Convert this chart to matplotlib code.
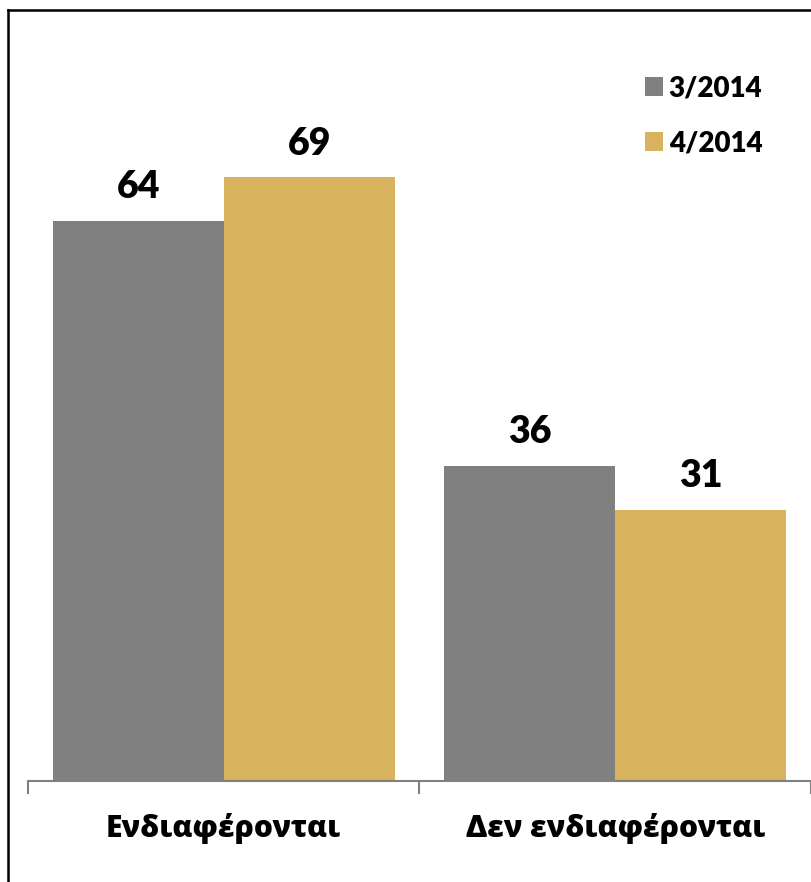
import numpy as np
import matplotlib.pyplot as plt
import matplotlib

categories = ['Ενδιαφέρονται', 'Δεν ενδιαφέρονται']
series_names = ['3/2014', '4/2014']
values_mar = [64, 36]
values_apr = [69, 31]
colors = ['#808080', '#D9B25E']

fig = plt.figure(figsize=(8.12, 8.82), dpi=100)
W, H = 812.0, 882.0
ax = fig.add_axes([28 / W, 1 - 781 / H, 783 / W, 700 / H])

x = np.arange(len(categories))
bw = 171 / 392.0
b1 = ax.bar(x - bw / 2, values_mar, bw, color=colors[0], label=series_names[0])
b2 = ax.bar(x + bw / 2, values_apr, bw, color=colors[1], label=series_names[1])

for bars in (b1, b2):
    for r in bars:
        ax.annotate('%d' % r.get_height(), (r.get_x() + r.get_width() / 2, r.get_height()),
                    xytext=(0, 12), textcoords='offset points', ha='center', va='bottom',
                    fontsize=27, fontweight=800, family=['Lato', 'DejaVu Sans'])

ax.set_xlim(-0.5, 1.5)
ax.set_ylim(0, 80)
ax.set_yticks([])
for s in ['top', 'left', 'right']:
    ax.spines[s].set_visible(False)
ax.spines['bottom'].set_color('#808080')
ax.spines['bottom'].set_linewidth(1.5)

# ticks sit between the categories, labels in the middle
ax.set_xticks([-0.5, 0.5, 1.5])
ax.set_xticklabels([])
ax.tick_params(axis='x', which='major', length=9, width=1.5, color='#808080', direction='out')
ax.set_xticks(x, minor=True)
ax.set_xticklabels(categories, minor=True, fontsize=21.6, fontweight=800,
                   family=['Open Sans', 'DejaVu Sans'])
ax.tick_params(axis='x', which='minor', length=0, pad=23)

leg = ax.legend(loc='upper left', bbox_to_anchor=(620 / W, 1 - 50 / H), bbox_transform=fig.transFigure,
                frameon=False, prop={'family': ['Lato', 'DejaVu Sans'], 'weight': 800, 'size': 20},
                handlelength=0.65, handleheight=0.65, handletextpad=0.2, labelspacing=1.05)

# border of the chart area (right and bottom are cut off in the picture)
fig.add_artist(plt.Line2D([8 / W, 8 / W], [0, 1 - 10 / H], color='black', lw=1.8, transform=fig.transFigure))
fig.add_artist(plt.Line2D([8 / W, 1], [1 - 10 / H, 1 - 10 / H], color='black', lw=1.8, transform=fig.transFigure))

plt.savefig('out.png', dpi=100)
